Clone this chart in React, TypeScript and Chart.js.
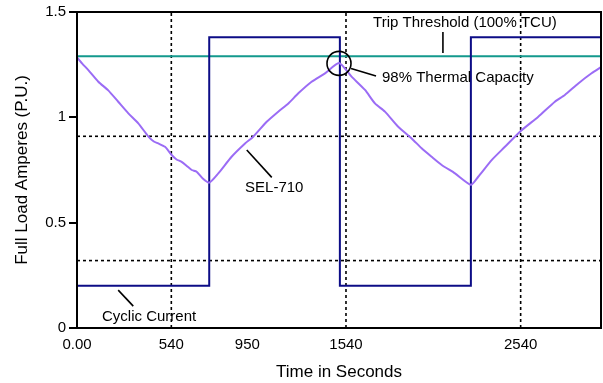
import React, { useEffect, useRef } from "react";
import { Chart, registerables } from "chart.js";

Chart.register(...registerables);

// ---------- data ----------
const xTickValues = [0, 540, 975, 1540, 2540];
const xTickLabels = ["0.00", "540", "950", "1540", "2540"];
const yTickValues = [0, 0.5, 1, 1.5];
const yTickLabels = ["0", "0.5", "1", "1.5"];

const verticalGridTimes = [540, 1540, 2540];
const horizontalGridLevels = [0.32, 0.91];

const tripThreshold = 1.29;

const currentStepTimes = [0, 757, 1505, 2255, 3000];
const currentStepLevels = [0.2, 1.38, 0.2, 1.38, 1.38];

const thermalTimes = [
  0, 30, 65, 122, 179, 236, 294, 351, 408, 440, 465, 504, 542, 570, 599, 630, 657, 685, 720, 757,
  809, 885, 962, 1009, 1086, 1152, 1210, 1267, 1343, 1420, 1500,
  1572, 1649, 1706, 1763, 1839, 1916, 1973, 2030, 2088, 2164, 2255,
  2297, 2374, 2450, 2536, 2641, 2736, 2793, 2870, 2946, 3000,
];
const thermalValues = [
  1.285, 1.255, 1.224, 1.169, 1.128, 1.074, 1.019, 0.971, 0.91, 0.885, 0.876, 0.86, 0.821, 0.8, 0.789, 0.768, 0.75, 0.742, 0.71, 0.69,
  0.734, 0.813, 0.876, 0.908, 0.979, 1.027, 1.066, 1.114, 1.169, 1.209, 1.258,
  1.193, 1.13, 1.066, 1.027, 0.955, 0.9, 0.853, 0.813, 0.774, 0.734, 0.68,
  0.718, 0.797, 0.86, 0.932, 1.003, 1.074, 1.106, 1.161, 1.209, 1.238,
];

const xMin = 0;
const xMax = 3000;
const yMin = 0;
const yMax = 1.5;

// annotations (anchors in data units)
const annotationTexts = ["Trip Threshold (100% TCU)", "98% Thermal Capacity", "SEL-710", "Cyclic Current"];

const FONT = "'Liberation Sans', Arial, Helvetica, sans-serif";

const annotationPlugin = {
  id: "annotationsAndFrame",
  afterDatasetsDraw(chart: any) {
    const { ctx, chartArea, scales } = chart;
    const X = (v: number) => scales.x.getPixelForValue(v);
    const Y = (v: number) => scales.y.getPixelForValue(v);
    ctx.save();
    // frame
    ctx.strokeStyle = "#000";
    ctx.lineWidth = 2;
    ctx.strokeRect(chartArea.left, chartArea.top, chartArea.right - chartArea.left, chartArea.bottom - chartArea.top);

    ctx.font = `15px ${FONT}`;
    ctx.fillStyle = "#000";
    ctx.textBaseline = "middle";

    const line = (x1: number, y1: number, x2: number, y2: number) => {
      ctx.beginPath();
      ctx.moveTo(X(x1), Y(y1));
      ctx.lineTo(X(x2), Y(y2));
      ctx.lineWidth = 1.6;
      ctx.strokeStyle = "#000";
      ctx.stroke();
    };

    // Trip threshold
    ctx.textAlign = "center";
    ctx.fillText(annotationTexts[0], X(2221), Y(1.448));
    line(2095, 1.405, 2095, 1.305);

    // 98% thermal capacity
    ctx.textAlign = "left";
    ctx.fillText(annotationTexts[1], X(1746), Y(1.187));
    ctx.beginPath();
    ctx.arc(X(1500), Y(1.256), 12, 0, Math.PI * 2);
    ctx.lineWidth = 1.6;
    ctx.strokeStyle = "#000";
    ctx.stroke();
    line(1569, 1.232, 1712, 1.196);

    // SEL-710
    ctx.fillText(annotationTexts[2], X(962), Y(0.665));
    line(972, 0.845, 1115, 0.715);

    // Cyclic current
    ctx.fillText(annotationTexts[3], X(143), Y(0.052));
    line(236, 0.18, 322, 0.104);

    ctx.restore();
  },
};

export default function App() {
  const canvasRef = useRef<HTMLCanvasElement | null>(null);

  useEffect(() => {
    if (!canvasRef.current) return;
    Chart.defaults.font.family = FONT;
    Chart.defaults.color = "#000";

    const gridStyle = {
      borderColor: "#000",
      borderWidth: 1.6,
      borderDash: [3, 3],
      pointRadius: 0,
      fill: false,
      order: 4,
    };

    const datasets: any[] = [];
    verticalGridTimes.forEach((t) => {
      datasets.push({ ...gridStyle, data: [{ x: t, y: yMin }, { x: t, y: yMax }] });
    });
    horizontalGridLevels.forEach((v) => {
      datasets.push({ ...gridStyle, data: [{ x: xMin, y: v }, { x: xMax, y: v }] });
    });
    datasets.push({
      data: [{ x: xMin, y: tripThreshold }, { x: xMax, y: tripThreshold }],
      borderColor: "#13998d",
      borderWidth: 2,
      pointRadius: 0,
      order: 3,
    });
    datasets.push({
      data: currentStepTimes.map((t, i) => ({ x: t, y: currentStepLevels[i] })),
      borderColor: "#0c0c86",
      borderWidth: 2,
      pointRadius: 0,
      stepped: "before",
      order: 2,
    });
    datasets.push({
      data: thermalTimes.map((t, i) => ({ x: t, y: thermalValues[i] })),
      borderColor: "#9b6cf5",
      borderWidth: 2,
      pointRadius: 0,
      tension: 0.2,
      order: 1,
    });

    const chart = new Chart(canvasRef.current, {
      type: "line",
      data: { datasets },
      options: {
        animation: false,
        responsive: false,
        devicePixelRatio: 1,
        layout: { padding: { top: 12, right: 2, left: 0, bottom: 0 } },
        plugins: { legend: { display: false }, tooltip: { enabled: false } },
        scales: {
          x: {
            type: "linear",
            min: xMin,
            max: xMax,
            afterFit: (scale: any) => {
              scale.height = 55;
            },
            afterBuildTicks: (scale: any) => {
              scale.ticks = xTickValues.map((v) => ({ value: v }));
            },
            ticks: {
              autoSkip: false,
              maxRotation: 0,
              padding: 8,
              font: { size: 15 },
              color: "#000",
              callback: (_v: any, i: number) => xTickLabels[i],
            },
            grid: { display: false, drawTicks: false },
            border: { display: false },
            title: {
              display: true,
              text: "Time in Seconds",
              font: { size: 17 },
              color: "#000",
              padding: { top: 0, bottom: 0 },
            },
          },
          y: {
            type: "linear",
            min: yMin,
            max: yMax,
            afterFit: (scale: any) => {
              scale.width = 77;
            },
            afterBuildTicks: (scale: any) => {
              scale.ticks = yTickValues.map((v) => ({ value: v }));
            },
            ticks: {
              padding: 3,
              font: { size: 15 },
              color: "#000",
              callback: (_v: any, i: number) => yTickLabels[i],
            },
            grid: {
              drawOnChartArea: false,
              drawTicks: true,
              tickLength: 8,
              color: "#000",
              lineWidth: 2,
            },
            border: { display: false },
            title: {
              display: true,
              text: "Full Load Amperes (P.U.)",
              font: { size: 17 },
              color: "#000",
              padding: { top: 12, bottom: 0 },
            },
          },
        },
      },
      plugins: [annotationPlugin],
    } as any);

    return () => chart.destroy();
  }, []);

  return (
    <div style={{ position: "absolute", left: 0, top: 0, width: 603, height: 383, background: "#fff" }}>
      <canvas ref={canvasRef} width={603} height={383} style={{ display: "block" }} />
    </div>
  );
}
